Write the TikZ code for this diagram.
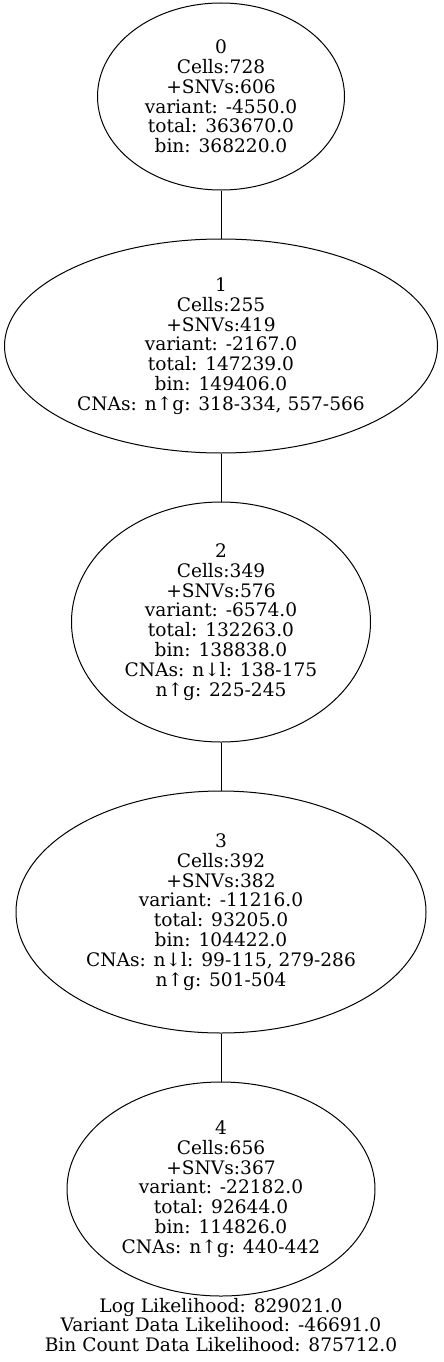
\documentclass[tikz,border=0pt]{standalone}
\usepackage{fontspec}
\setmainfont{DejaVu Serif}
\usetikzlibrary{positioning,shapes.geometric}

\begin{document}
\begin{tikzpicture}
                    [clone/.style={ellipse,
                        draw, line width=1pt,
                        inner sep=0pt, align=center,
                        font=\fontsize{18.6}{19.8}\selectfont},
                    info/.style={align=center,
                        font=\fontsize{18.6}{19.8}\selectfont},
                    node distance=48pt]

                    \useasboundingbox (0,0) rectangle (444pt,-1362pt);

                    \node[clone, minimum width=247pt, minimum height=187pt]
                        (c0) at (221pt,-96.5pt)
                        {0\\Cells:728\\+SNVs:606\\variant: -4550.0\\total: 363670.0\\bin: 368220.0};
                    \node[clone, minimum width=433pt, minimum height=214pt, below=of c0]
                        (c1) {1\\Cells:255\\+SNVs:419\\variant: -2167.0\\total: 147239.0\\bin: 149406.0\\CNAs: n↑g: 318-334, 557-566};
                    \node[clone, minimum width=299pt, minimum height=240pt, below=of c1]
                        (c2) {2\\Cells:349\\+SNVs:576\\variant: -6574.0\\total: 132263.0\\bin: 138838.0\\CNAs: n↓l: 138-175\\n↑g: 225-245};
                    \node[clone, minimum width=410pt, minimum height=242pt, below=of c2]
                        (c3) {3\\Cells:392\\+SNVs:382\\variant: -11216.0\\total: 93205.0\\bin: 104422.0\\CNAs: n↓l: 99-115, 279-286\\n↑g: 501-504};
                    \node[clone, minimum width=308pt, minimum height=214pt, below=of c3]
                        (c4) {4\\Cells:656\\+SNVs:367\\variant: -22182.0\\total: 92644.0\\bin: 114826.0\\CNAs: n↑g: 440-442};
                    \node[info] (lik) at (221pt,-1325pt)
                        {Log Likelihood: 829021.0\\Variant Data Likelihood: -46691.0\\Bin Count Data Likelihood: 875712.0};

                    \path[-, line width=1pt]
                        (c0) edge (c1)
                        (c1) edge (c2)
                        (c2) edge (c3)
                        (c3) edge (c4);
                \end{tikzpicture}
\end{document}
